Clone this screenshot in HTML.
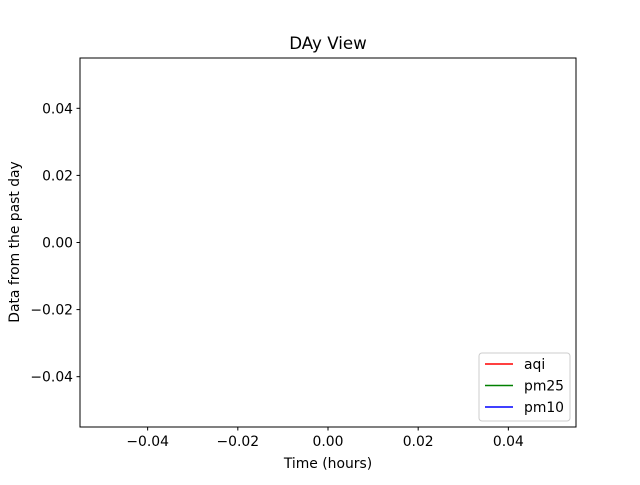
<!DOCTYPE html>
<html><head><meta charset="utf-8"><style>
body{margin:0;background:#fff;}
svg text{font-family:"DejaVu Sans","Liberation Sans",sans-serif;}
</style></head><body>
<svg id="chart" width="640" height="480" xmlns="http://www.w3.org/2000/svg">
<rect width="640" height="480" fill="#fff"/>
<text x="328" y="49" font-size="16.7" text-anchor="middle">DAy View</text>
<g id="ticks"></g>
<g id="series"></g>
<rect x="80" y="58" width="496" height="369" fill="none" stroke="#000" stroke-width="1"/>
<text x="328" y="468" font-size="13.9" text-anchor="middle">Time (hours)</text>
<text transform="translate(19,242) rotate(-90)" font-size="13.9" text-anchor="middle">Data from the past day</text>
<g id="legend">
<rect x="479" y="353" width="91" height="68" rx="3" fill="#fff" fill-opacity="0.8" stroke="#ccc"/>
</g>
</svg>
<script>
const xTicks=[-0.04,-0.02,0.00,0.02,0.04];
const yTicks=[-0.04,-0.02,0.00,0.02,0.04];
const seriesNames=["aqi","pm25","pm10"];
const seriesColors=["red","green","blue"];
const aqiValues=[];
const pm25Values=[];
const pm10Values=[];
const timeValues=[];
const NS="http://www.w3.org/2000/svg";
const xMin=-0.055,xMax=0.055,yMin=-0.055,yMax=0.055;
const L=80,R=576,T=58,B=427;
const xs=v=>L+(v-xMin)/(xMax-xMin)*(R-L);
const ys=v=>B-(v-yMin)/(yMax-yMin)*(B-T);
function mk(tag,attrs,parent){const e=document.createElementNS(NS,tag);for(const k in attrs)e.setAttribute(k,attrs[k]);parent.appendChild(e);return e;}
const tg=document.getElementById('ticks');
xTicks.forEach(v=>{const x=xs(v);
 const l=mk('line',{x1:x,x2:x,y1:B,y2:B+3.5,stroke:'#000'},tg);
 
 
 const t=mk('text',{x:x,y:B+19,'font-size':13.9,'text-anchor':'middle'},tg);
 
 
 t.textContent=(v<0?'\u22120.':'0.')+Math.abs(v).toFixed(2).split('.')[1];});
yTicks.forEach(v=>{const y=ys(v);
 const l=mk('line',{x1:L-3.5,x2:L,y1:y,y2:y,stroke:'#000'},tg);
 
 
 const t=mk('text',{x:L-7,y:y+5,'font-size':13.9,'text-anchor':'end'},tg);
 
 
 t.textContent=(v<0?'\u22120.':'0.')+Math.abs(v).toFixed(2).split('.')[1];});
const sg=document.getElementById('series');
[aqiValues,pm25Values,pm10Values].forEach((vals,i)=>{
 const pts=vals.map((v,j)=>xs(timeValues[j])+','+ys(v)).join(' ');
 const p=mk('polyline',{points:pts,fill:'none',stroke:seriesColors[i],'stroke-width':1.5},sg);
 
 });
const lg=document.getElementById('legend');
seriesNames.forEach((n,i)=>{const y=364+i*21.5;
 const l=mk('line',{x1:485,x2:513,y1:y,y2:y,stroke:seriesColors[i],'stroke-width':1.5},lg);
 
 
 const t=mk('text',{x:524,y:y+5,'font-size':13.9},lg);
 
 
 t.textContent=n;});
</script>
</body></html>
